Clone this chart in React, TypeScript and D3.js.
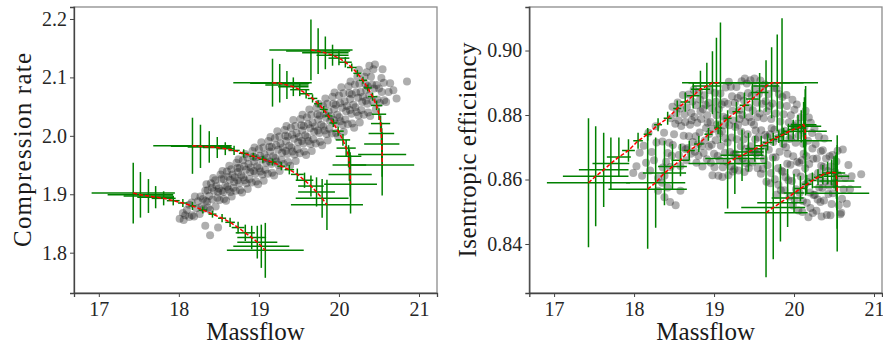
import * as d3 from 'd3';
import * as React from 'react';

// grey samples: [massflow, compression rate]
const prCloud: [number, number][] = [
  [18.01, 1.858], [18.13, 1.861], [18.05, 1.868], [18.33, 1.846], [18.39, 1.83], [18.49, 1.843],
  [18.06, 1.856], [18.08, 1.864], [18.1, 1.873], [18.13, 1.882],
  [18.165, 1.864], [18.19, 1.862], [18.22, 1.876], [18.24, 1.888], [18.16, 1.886], [18.2, 1.896],
  [18.26, 1.866], [18.28, 1.878], [18.3, 1.892], [18.33, 1.906], [18.345, 1.917], [18.27, 1.896], [18.31, 1.875], [18.335, 1.889],
  [18.365, 1.877], [18.39, 1.873], [18.42, 1.891], [18.44, 1.906], [18.36, 1.907], [18.4, 1.919], [18.43, 1.928], [18.38, 1.897], [18.415, 1.911], [18.355, 1.887],
  [18.46, 1.879], [18.48, 1.894], [18.5, 1.91], [18.53, 1.926], [18.545, 1.94], [18.47, 1.915], [18.51, 1.89], [18.535, 1.906], [18.455, 1.924], [18.52, 1.934], [18.49, 1.904],
  [18.565, 1.892], [18.59, 1.889], [18.62, 1.908], [18.64, 1.925], [18.56, 1.926], [18.6, 1.939], [18.63, 1.949], [18.58, 1.915], [18.615, 1.93], [18.555, 1.904], [18.645, 1.904], [18.605, 1.913],
  [18.66, 1.896], [18.68, 1.911], [18.7, 1.929], [18.73, 1.945], [18.745, 1.96], [18.67, 1.934], [18.71, 1.906], [18.735, 1.924], [18.655, 1.943], [18.72, 1.954], [18.69, 1.921], [18.74, 1.938],
  [18.765, 1.907], [18.79, 1.903], [18.82, 1.924], [18.84, 1.942], [18.76, 1.945], [18.8, 1.958], [18.83, 1.969], [18.78, 1.932], [18.815, 1.948], [18.755, 1.919], [18.845, 1.919], [18.805, 1.929],
  [18.86, 1.909], [18.88, 1.926], [18.9, 1.946], [18.93, 1.964], [18.945, 1.98], [18.87, 1.952], [18.91, 1.92], [18.935, 1.94], [18.855, 1.963], [18.92, 1.974], [18.89, 1.938], [18.94, 1.956],
  [18.965, 1.922], [18.99, 1.917], [19.02, 1.939], [19.04, 1.959], [18.96, 1.963], [19.0, 1.977], [19.03, 1.989], [18.98, 1.948], [19.015, 1.966], [18.955, 1.935], [19.045, 1.934], [19.005, 1.945],
  [19.06, 1.923], [19.08, 1.942], [19.1, 1.962], [19.13, 1.981], [19.145, 1.998], [19.07, 1.968], [19.11, 1.935], [19.135, 1.956], [19.055, 1.98], [19.12, 1.991], [19.09, 1.954], [19.14, 1.973],
  [19.165, 1.937], [19.19, 1.932], [19.22, 1.956], [19.24, 1.976], [19.16, 1.981], [19.2, 1.996], [19.23, 2.008], [19.18, 1.965], [19.215, 1.984], [19.155, 1.952], [19.245, 1.95], [19.205, 1.962],
  [19.26, 1.94], [19.28, 1.959], [19.3, 1.98], [19.33, 2.0], [19.345, 2.017], [19.27, 1.987], [19.31, 1.952], [19.335, 1.974], [19.255, 1.999], [19.32, 2.01], [19.29, 1.971], [19.34, 1.991],
  [19.365, 1.955], [19.39, 1.949], [19.42, 1.973], [19.44, 1.995], [19.36, 1.999], [19.4, 2.014], [19.43, 2.027], [19.38, 1.983], [19.415, 2.002], [19.355, 1.969], [19.445, 1.968], [19.405, 1.98],
  [19.46, 1.957], [19.48, 1.977], [19.5, 1.998], [19.53, 2.018], [19.545, 2.036], [19.47, 2.005], [19.51, 1.97], [19.535, 1.991], [19.455, 2.017], [19.52, 2.029], [19.49, 1.989], [19.54, 2.009],
  [19.565, 1.973], [19.59, 1.967], [19.62, 1.991], [19.64, 2.013], [19.56, 2.017], [19.6, 2.032], [19.63, 2.045], [19.58, 2.001], [19.615, 2.02], [19.555, 1.987], [19.645, 1.986], [19.605, 1.998],
  [19.66, 1.974], [19.68, 1.994], [19.7, 2.016], [19.73, 2.037], [19.745, 2.055], [19.67, 2.023], [19.71, 1.987], [19.735, 2.009], [19.655, 2.036], [19.72, 2.048], [19.69, 2.007], [19.74, 2.028],
  [19.765, 1.99], [19.79, 1.984], [19.82, 2.009], [19.84, 2.031], [19.76, 2.035], [19.8, 2.051], [19.83, 2.064], [19.78, 2.019], [19.815, 2.038], [19.755, 2.005], [19.845, 2.003], [19.805, 2.016],
  [19.86, 1.992], [19.88, 2.012], [19.9, 2.034], [19.93, 2.055], [19.945, 2.074], [19.87, 2.042], [19.91, 2.004], [19.935, 2.027], [19.855, 2.055], [19.92, 2.067], [19.89, 2.025], [19.94, 2.046],
  [19.965, 2.005], [19.99, 1.999], [20.02, 2.025], [20.04, 2.048], [19.96, 2.053], [20.0, 2.069], [20.03, 2.083], [19.98, 2.036], [20.015, 2.056], [19.955, 2.021], [20.045, 2.019], [20.005, 2.032],
  [20.06, 2.007], [20.08, 2.028], [20.1, 2.051], [20.13, 2.073], [20.145, 2.093], [20.07, 2.059], [20.11, 2.02], [20.135, 2.044], [20.055, 2.073], [20.12, 2.085], [20.09, 2.042], [20.14, 2.063],
  [20.165, 2.021], [20.19, 2.014], [20.22, 2.041], [20.24, 2.065], [20.16, 2.071], [20.2, 2.088], [20.23, 2.101], [20.18, 2.053], [20.215, 2.074], [20.155, 2.038], [20.245, 2.035], [20.205, 2.049],
  [20.26, 2.023], [20.28, 2.044], [20.3, 2.067], [20.33, 2.089], [20.345, 2.109], [20.27, 2.075], [20.31, 2.036], [20.335, 2.06], [20.255, 2.089], [20.32, 2.101], [20.29, 2.058], [20.34, 2.079],
  [20.365, 2.04], [20.39, 2.034], [20.42, 2.059], [20.44, 2.081], [20.36, 2.085], [20.4, 2.101], [20.43, 2.114], [20.38, 2.069], [20.415, 2.088], [20.355, 2.055],
  [20.46, 2.045], [20.48, 2.062], [20.5, 2.081], [20.53, 2.099], [20.545, 2.114], [20.47, 2.087], [20.51, 2.056], [20.535, 2.075],
  [20.565, 2.061], [20.59, 2.058], [20.62, 2.075], [20.64, 2.09], [20.56, 2.091],
  [20.85, 2.093], [20.72, 2.064], [20.68, 2.078], [20.45, 2.122], [20.38, 2.12], [20.25, 2.113],
];

// grey samples: [massflow, isentropic efficiency]
const effCloud: [number, number][] = [
  [17.99, 0.862], [18.03, 0.8641], [18.07, 0.8683], [18.1, 0.8612], [18.15, 0.8652], [18.12, 0.8705], [18.2, 0.8628], [18.22, 0.8685], [18.18, 0.8745], [18.25, 0.866], [18.28, 0.8715], [18.3, 0.8605], [18.27, 0.8765],
  [18.3, 0.8565], [18.38, 0.8545], [18.45, 0.853], [18.42, 0.8575], [18.52, 0.852], [18.58, 0.8565], [18.35, 0.859],
  [18.36, 0.8637], [18.38, 0.8612], [18.4, 0.8655], [18.42, 0.8682], [18.44, 0.8714], [18.355, 0.8718], [18.375, 0.8745],
  [18.455, 0.8639], [18.47, 0.8674], [18.485, 0.8707], [18.5, 0.874], [18.515, 0.8773], [18.53, 0.8806], [18.545, 0.8839], [18.46, 0.879], [18.48, 0.8826],
  [18.56, 0.8676], [18.58, 0.8642], [18.6, 0.87], [18.62, 0.8736], [18.64, 0.8778], [18.555, 0.8784], [18.575, 0.882], [18.61, 0.8862], [18.63, 0.8802], [18.59, 0.8766], [18.645, 0.8694],
  [18.655, 0.866], [18.67, 0.8698], [18.685, 0.8734], [18.7, 0.877], [18.715, 0.8806], [18.73, 0.8842], [18.745, 0.8878], [18.66, 0.8824], [18.68, 0.8864], [18.71, 0.868], [18.735, 0.8716], [18.72, 0.8784],
  [18.76, 0.8686], [18.78, 0.8652], [18.8, 0.871], [18.82, 0.8746], [18.84, 0.8788], [18.755, 0.8794], [18.775, 0.883], [18.81, 0.8872], [18.83, 0.8812], [18.79, 0.8776], [18.845, 0.8704], [18.77, 0.8734], [18.825, 0.8848], [18.805, 0.8674],
  [18.855, 0.864], [18.87, 0.8682], [18.885, 0.8721], [18.9, 0.876], [18.915, 0.8799], [18.93, 0.8838], [18.945, 0.8877], [18.86, 0.8819], [18.88, 0.8861], [18.91, 0.8663], [18.935, 0.8702], [18.92, 0.8776], [18.895, 0.8832], [18.94, 0.8741],
  [18.96, 0.8652], [18.98, 0.8613], [19.0, 0.868], [19.02, 0.8722], [19.04, 0.8771], [18.955, 0.8778], [18.975, 0.882], [19.01, 0.8869], [19.03, 0.8799], [18.99, 0.8757], [19.045, 0.8673], [18.97, 0.8708], [19.025, 0.8841], [19.005, 0.8638],
  [19.055, 0.8612], [19.07, 0.866], [19.085, 0.8705], [19.1, 0.875], [19.115, 0.8795], [19.13, 0.884], [19.145, 0.8885], [19.06, 0.8818], [19.08, 0.8867], [19.11, 0.8638], [19.135, 0.8683], [19.12, 0.8768], [19.095, 0.8833], [19.14, 0.8728], [19.065, 0.8743], [19.105, 0.8608],
  [19.16, 0.8655], [19.18, 0.8613], [19.2, 0.8685], [19.22, 0.873], [19.24, 0.8783], [19.155, 0.879], [19.175, 0.8835], [19.21, 0.8888], [19.23, 0.8813], [19.19, 0.8768], [19.245, 0.8678], [19.17, 0.8715], [19.225, 0.8858], [19.205, 0.864], [19.185, 0.8903], [19.235, 0.8625],
  [19.255, 0.8632], [19.27, 0.868], [19.285, 0.8725], [19.3, 0.877], [19.315, 0.8815], [19.33, 0.886], [19.345, 0.8905], [19.26, 0.8838], [19.28, 0.8887], [19.31, 0.8658], [19.335, 0.8703], [19.32, 0.8788], [19.295, 0.8853], [19.34, 0.8748], [19.265, 0.8763], [19.305, 0.8628],
  [19.36, 0.8665], [19.38, 0.8623], [19.4, 0.8695], [19.42, 0.874], [19.44, 0.8793], [19.355, 0.88], [19.375, 0.8845], [19.41, 0.8898], [19.43, 0.8823], [19.39, 0.8778], [19.445, 0.8688], [19.37, 0.8725], [19.425, 0.8868], [19.405, 0.865], [19.385, 0.8913], [19.435, 0.8635],
  [19.455, 0.8908], [19.47, 0.886], [19.485, 0.8815], [19.5, 0.877], [19.515, 0.8725], [19.53, 0.868], [19.545, 0.8635], [19.46, 0.8703], [19.48, 0.8653], [19.51, 0.8883], [19.535, 0.8838], [19.52, 0.8752], [19.495, 0.8688], [19.54, 0.8793], [19.465, 0.8778], [19.505, 0.8913],
  [19.56, 0.8865], [19.58, 0.8907], [19.6, 0.8835], [19.62, 0.879], [19.64, 0.8738], [19.555, 0.873], [19.575, 0.8685], [19.61, 0.8633], [19.63, 0.8708], [19.59, 0.8753], [19.645, 0.8843], [19.57, 0.8805], [19.625, 0.8663], [19.605, 0.888], [19.585, 0.8618], [19.635, 0.8895],
  [19.655, 0.8593], [19.67, 0.8644], [19.685, 0.8692], [19.7, 0.874], [19.715, 0.8788], [19.73, 0.8836], [19.745, 0.8884], [19.66, 0.8812], [19.68, 0.8865], [19.71, 0.862], [19.735, 0.8668], [19.72, 0.8759], [19.695, 0.8828], [19.74, 0.8716], [19.665, 0.8732], [19.705, 0.8588],
  [19.76, 0.8601], [19.78, 0.8553], [19.8, 0.8635], [19.82, 0.8686], [19.84, 0.8746], [19.755, 0.8754], [19.775, 0.8805], [19.81, 0.8865], [19.83, 0.878], [19.79, 0.8729], [19.845, 0.8627], [19.77, 0.8669], [19.825, 0.8831], [19.805, 0.8584], [19.785, 0.8882], [19.835, 0.8567],
  [19.855, 0.8856], [19.87, 0.8802], [19.885, 0.8751], [19.9, 0.87], [19.915, 0.8649], [19.93, 0.8598], [19.945, 0.8547], [19.86, 0.8624], [19.88, 0.8567], [19.91, 0.8828], [19.935, 0.8777], [19.92, 0.868], [19.895, 0.8607], [19.94, 0.8726], [19.865, 0.8709], [19.905, 0.8862],
  [19.96, 0.8799], [19.98, 0.8847], [20.0, 0.8765], [20.02, 0.8714], [20.04, 0.8655], [19.955, 0.8646], [19.975, 0.8595], [20.01, 0.8536], [20.03, 0.8621], [19.99, 0.8672], [20.045, 0.8774], [19.97, 0.8731], [20.025, 0.857], [20.005, 0.8816], [19.985, 0.8519], [20.035, 0.8833],
  [20.055, 0.8504], [20.07, 0.8558], [20.085, 0.8609], [20.1, 0.866], [20.115, 0.8711], [20.13, 0.8762], [20.145, 0.8813], [20.06, 0.8737], [20.08, 0.8793], [20.11, 0.8533], [20.135, 0.8584], [20.12, 0.868], [20.095, 0.8754], [20.14, 0.8635], [20.065, 0.8652], [20.105, 0.8499],
  [20.16, 0.8528], [20.18, 0.8483], [20.2, 0.856], [20.22, 0.8608], [20.24, 0.8664], [20.155, 0.8672], [20.175, 0.872], [20.21, 0.8776], [20.23, 0.8696], [20.19, 0.8648], [20.245, 0.8552], [20.17, 0.8592], [20.225, 0.8744], [20.205, 0.8512], [20.185, 0.8792], [20.235, 0.8496],
  [20.255, 0.8758], [20.27, 0.871], [20.285, 0.8665], [20.3, 0.862], [20.315, 0.8575], [20.33, 0.853], [20.345, 0.8485], [20.26, 0.8553], [20.28, 0.8503], [20.31, 0.8733], [20.335, 0.8688], [20.32, 0.8602], [20.295, 0.8538], [20.34, 0.8643],
  [20.36, 0.8691], [20.38, 0.8727], [20.4, 0.8665], [20.42, 0.8626], [20.44, 0.8581], [20.355, 0.8574], [20.375, 0.8535], [20.41, 0.849], [20.43, 0.8555], [20.39, 0.8594], [20.445, 0.8672], [20.37, 0.8639],
  [20.455, 0.8489], [20.47, 0.8524], [20.485, 0.8557], [20.5, 0.859], [20.515, 0.8623], [20.53, 0.8656], [20.545, 0.8689], [20.46, 0.864], [20.48, 0.8676],
  [20.56, 0.852], [20.58, 0.8492], [20.6, 0.854], [20.62, 0.857], [20.64, 0.8605], [20.555, 0.861],
  [20.61, 0.8693], [20.84, 0.8616], [20.7, 0.857], [20.59, 0.8497], [20.68, 0.8645], [20.72, 0.861], [20.66, 0.8525],
];

// speed lines: [massflow, massflow err, compression rate, cr err, efficiency, eff err]
const speed1 = [
  [17.43, 0.52, 1.902, 0.052, 0.859, 0.02], [17.52, 0.41, 1.899, 0.039, 0.861, 0.0155], [17.62, 0.31, 1.897, 0.029, 0.863, 0.0115],
  [17.71, 0.23, 1.895, 0.019, 0.865, 0.008], [17.81, 0.15, 1.893, 0.012, 0.867, 0.006], [17.93, 0.08, 1.889, 0.008, 0.869, 0.0035],
  [18.05, 0.06, 1.885, 0.007, 0.872, 0.0025], [18.17, 0.05, 1.88, 0.007, 0.874, 0.002], [18.3, 0.05, 1.873, 0.006, 0.877, 0.002],
  [18.42, 0.05, 1.866, 0.006, 0.879, 0.002], [18.54, 0.05, 1.859, 0.007, 0.882, 0.0025], [18.64, 0.06, 1.852, 0.008, 0.884, 0.003],
  [18.74, 0.08, 1.843, 0.01, 0.886, 0.004], [18.83, 0.12, 1.834, 0.014, 0.888, 0.0057], [18.91, 0.18, 1.826, 0.02, 0.889, 0.0072],
  [18.98, 0.25, 1.818, 0.028, 0.89, 0.0098], [19.03, 0.35, 1.811, 0.037, 0.89, 0.014], [19.08, 0.48, 1.804, 0.047, 0.89, 0.0187],
];
const speed2 = [
  [18.17, 0.49, 1.983, 0.048, 0.857, 0.0185], [18.27, 0.37, 1.982, 0.037, 0.859, 0.014], [18.38, 0.27, 1.981, 0.027, 0.862, 0.01],
  [18.48, 0.18, 1.98, 0.018, 0.864, 0.007], [18.58, 0.11, 1.978, 0.011, 0.866, 0.005], [18.69, 0.07, 1.975, 0.008, 0.869, 0.003],
  [18.81, 0.06, 1.97, 0.007, 0.871, 0.0025], [18.93, 0.05, 1.965, 0.006, 0.874, 0.002], [19.05, 0.05, 1.96, 0.006, 0.876, 0.002],
  [19.17, 0.05, 1.955, 0.006, 0.879, 0.0025], [19.28, 0.05, 1.948, 0.007, 0.881, 0.003], [19.38, 0.06, 1.942, 0.008, 0.883, 0.004],
  [19.48, 0.08, 1.934, 0.01, 0.885, 0.005], [19.57, 0.11, 1.924, 0.013, 0.887, 0.006], [19.65, 0.16, 1.914, 0.018, 0.889, 0.008],
  [19.72, 0.23, 1.904, 0.025, 0.89, 0.011], [19.79, 0.33, 1.893, 0.033, 0.89, 0.015], [19.85, 0.45, 1.882, 0.043, 0.89, 0.02],
];
const speed3 = [
  [19.17, 0.49, 2.091, 0.041, 0.865, 0.014], [19.26, 0.37, 2.09, 0.033, 0.8665, 0.011], [19.35, 0.27, 2.087, 0.024, 0.8675, 0.008],
  [19.43, 0.19, 2.084, 0.016, 0.8685, 0.006], [19.51, 0.12, 2.079, 0.011, 0.8695, 0.004], [19.59, 0.08, 2.072, 0.008, 0.8705, 0.003],
  [19.67, 0.06, 2.064, 0.007, 0.8715, 0.0025], [19.74, 0.05, 2.055, 0.006, 0.8725, 0.002], [19.81, 0.05, 2.045, 0.006, 0.8733, 0.002],
  [19.87, 0.05, 2.034, 0.006, 0.874, 0.002], [19.93, 0.05, 2.022, 0.007, 0.8748, 0.0025], [19.99, 0.07, 2.008, 0.008, 0.8755, 0.003],
  [20.05, 0.09, 1.993, 0.01, 0.876, 0.004], [20.09, 0.12, 1.979, 0.014, 0.8765, 0.005], [20.12, 0.16, 1.965, 0.019, 0.877, 0.007],
  [20.13, 0.21, 1.95, 0.027, 0.8765, 0.009], [20.14, 0.27, 1.934, 0.038, 0.875, 0.013], [20.145, 0.33, 1.917, 0.05, 0.872, 0.017],
];
const speed4 = [
  [19.65, 0.52, 2.147, 0.052, 0.8497, 0.02], [19.74, 0.4, 2.145, 0.039, 0.8513, 0.016], [19.83, 0.29, 2.142, 0.028, 0.8528, 0.012],
  [19.92, 0.2, 2.138, 0.018, 0.8543, 0.009], [20.0, 0.13, 2.133, 0.012, 0.8558, 0.006], [20.08, 0.08, 2.126, 0.009, 0.8572, 0.004],
  [20.16, 0.06, 2.117, 0.007, 0.8585, 0.003], [20.23, 0.05, 2.107, 0.006, 0.8597, 0.0025], [20.3, 0.05, 2.095, 0.006, 0.8607, 0.0025],
  [20.36, 0.05, 2.082, 0.006, 0.8615, 0.003], [20.42, 0.06, 2.067, 0.007, 0.862, 0.0035], [20.47, 0.07, 2.052, 0.008, 0.8622, 0.004],
  [20.5, 0.09, 2.037, 0.01, 0.8622, 0.005], [20.52, 0.12, 2.021, 0.014, 0.862, 0.0055], [20.53, 0.16, 2.004, 0.019, 0.861, 0.007],
  [20.535, 0.22, 1.986, 0.027, 0.8595, 0.009], [20.54, 0.3, 1.968, 0.038, 0.8577, 0.013], [20.54, 0.4, 1.95, 0.052, 0.8557, 0.018],
];
const speedLines = [speed1, speed2, speed3, speed4];

const massflowTicks = [17, 18, 19, 20, 21];
const prTicks = [1.8, 1.9, 2.0, 2.1, 2.2];
const effTicks = [0.84, 0.86, 0.88, 0.9];

const FONT = "'Liberation Serif', 'Times New Roman', serif";

function drawPanel(svg, p) {
  const x = d3.scaleLinear().domain(p.xDomain).range([p.left, p.right]);
  const y = d3.scaleLinear().domain(p.yDomain).range([p.bottom, p.top]);
  const vi = p.valueIndex;

  svg
    .append('clipPath')
    .attr('id', p.id)
    .append('rect')
    .attr('x', p.left)
    .attr('y', p.top)
    .attr('width', p.right - p.left)
    .attr('height', p.bottom - p.top);

  const plot = svg.append('g').attr('clip-path', `url(#${p.id})`);

  plot
    .append('g')
    .selectAll('circle')
    .data(p.cloud)
    .enter()
    .append('circle')
    .attr('cx', (d) => x(d[0]))
    .attr('cy', (d) => y(d[1]))
    .attr('r', 4)
    .attr('fill', '#1e1e1e')
    .attr('fill-opacity', 0.36);

  const bars = plot.append('g').attr('stroke', '#008000').attr('stroke-width', 1.5);
  speedLines.forEach((line) => {
    line.forEach((d) => {
      bars
        .append('line')
        .attr('x1', x(d[0] - d[1]))
        .attr('x2', x(d[0] + d[1]))
        .attr('y1', y(d[vi]))
        .attr('y2', y(d[vi]));
      bars
        .append('line')
        .attr('x1', x(d[0]))
        .attr('x2', x(d[0]))
        .attr('y1', y(d[vi] - d[vi + 1]))
        .attr('y2', y(d[vi] + d[vi + 1]));
    });
  });

  const mean = d3
    .line<number[]>()
    .x((d) => x(d[0]))
    .y((d) => y(d[vi]));
  speedLines.forEach((line) => {
    plot
      .append('path')
      .datum(line)
      .attr('d', mean)
      .attr('fill', 'none')
      .attr('stroke', 'red')
      .attr('stroke-width', 1.5)
      .attr('stroke-dasharray', '4 2');
  });

  // frame
  svg
    .append('rect')
    .attr('x', p.left)
    .attr('y', p.top)
    .attr('width', p.right - p.left)
    .attr('height', p.bottom - p.top)
    .attr('fill', 'none')
    .attr('stroke', '#8c8c8c')
    .attr('stroke-width', 1.3);

  const xAxis = svg
    .append('g')
    .attr('transform', `translate(0,${p.bottom})`)
    .call(d3.axisBottom(x).tickValues(massflowTicks).tickSize(4).tickPadding(5).tickFormat(d3.format('d')));
  const yAxis = svg
    .append('g')
    .attr('transform', `translate(${p.left},0)`)
    .call(d3.axisLeft(y).tickValues(p.yTicks).tickSize(4).tickPadding(3).tickFormat(d3.format(p.yFormat)));

  [xAxis, yAxis].forEach((a) => {
    a.select('.domain').attr('stroke', '#444').attr('stroke-width', 1.3);
    a.selectAll('.tick line').attr('stroke', '#444').attr('stroke-width', 1);
    a.selectAll('text').attr('font-family', FONT).attr('font-size', 20).attr('fill', '#262626');
  });

  svg
    .append('text')
    .attr('x', (p.left + p.right) / 2)
    .attr('y', 340)
    .attr('text-anchor', 'middle')
    .attr('font-family', FONT)
    .attr('font-size', 25)
    .attr('fill', '#1a1a1a')
    .text('Massflow');

  svg
    .append('text')
    .attr('transform', `translate(${p.yLabelX},${(p.top + p.bottom) / 2}) rotate(-90)`)
    .attr('text-anchor', 'middle')
    .attr('font-family', FONT)
    .attr('font-size', 25)
    .attr('fill', '#1a1a1a')
    .attr('textLength', p.yLabelLength)
    .attr('lengthAdjust', 'spacing')
    .text(p.yLabel);
}

const App = () => {
  const ref = React.useRef<SVGSVGElement>(null);

  React.useEffect(() => {
    const svg = d3.select(ref.current);
    svg.selectAll('*').remove();

    drawPanel(svg, {
      id: 'clip-pr',
      left: 74,
      right: 437,
      top: 7,
      bottom: 293,
      xDomain: [16.69, 21.225],
      yDomain: [1.731, 2.2205],
      yTicks: prTicks,
      yFormat: '.1f',
      cloud: prCloud,
      valueIndex: 2,
      yLabel: 'Compression rate',
      yLabelX: 31,
      yLabelLength: 194,
    });

    drawPanel(svg, {
      id: 'clip-eff',
      left: 529.3,
      right: 882,
      top: 7,
      bottom: 293,
      xDomain: [16.69, 21.1],
      yDomain: [0.8248, 0.9135],
      yTicks: effTicks,
      yFormat: '.2f',
      cloud: effCloud,
      valueIndex: 4,
      yLabel: 'Isentropic efficiency',
      yLabelX: 476,
      yLabelLength: 215,
    });
  }, []);

  return (
    <svg
      ref={ref}
      width={883}
      height={345}
      style={{ position: 'absolute', left: 0, top: 0, background: '#fff' }}
    />
  );
};

export default App;
